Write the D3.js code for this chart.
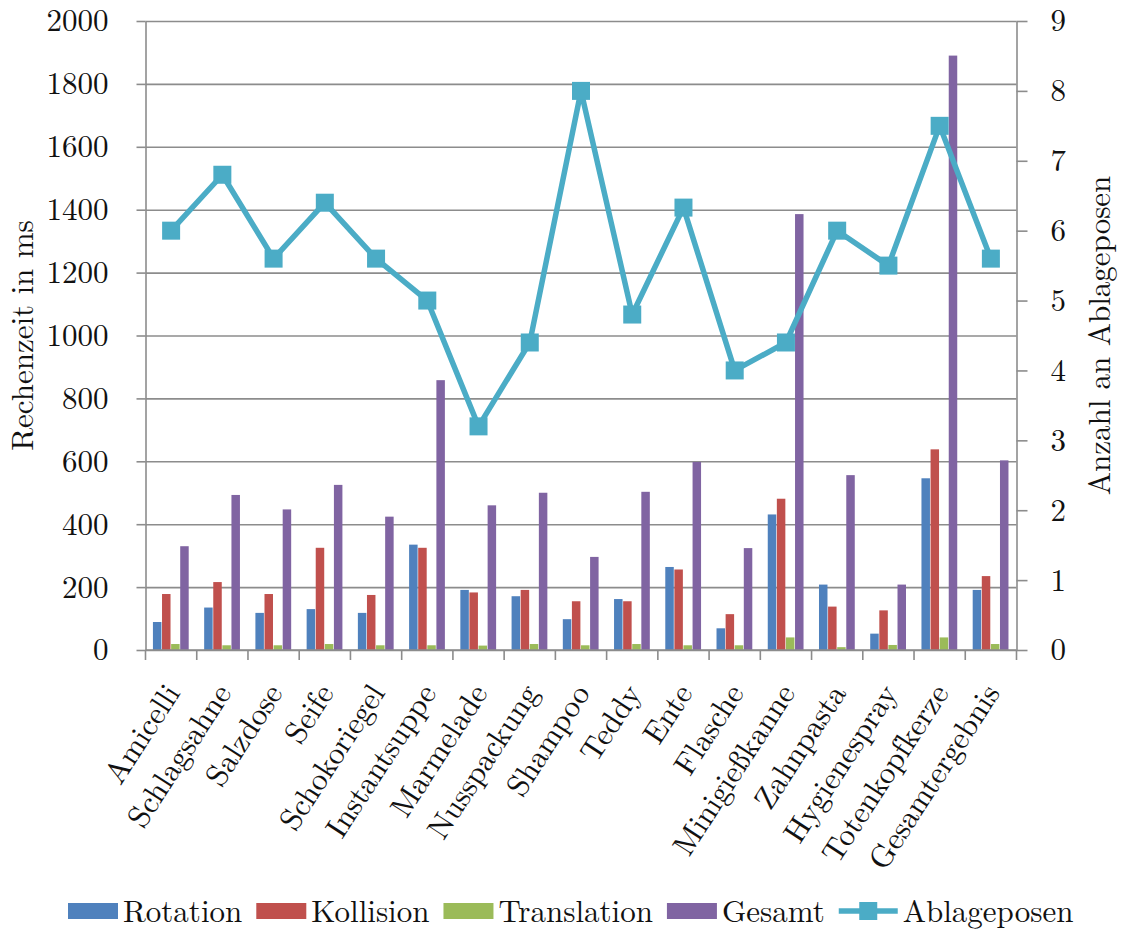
<!DOCTYPE html>
<html>
<head>
<meta charset="utf-8">
<script src="https://cdn.jsdelivr.net/npm/d3@7"></script>
<style>
  html, body { margin: 0; padding: 0; background: #fff; }
  svg { display: block; }
</style>
</head>
<body>
<svg id="chart" width="1123" height="932"></svg>
<script>
// Objects
const categories = ["Amicelli", "Schlagsahne", "Salzdose", "Seife", "Schokoriegel", "Instantsuppe",
  "Marmelade", "Nusspackung", "Shampoo", "Teddy", "Ente", "Flasche", "Minigießkanne",
  "Zahnpasta", "Hygienespray", "Totenkopfkerze", "Gesamtergebnis"];

// Computation times in ms
const rotation    = [89, 135, 118, 130, 118, 335, 191, 171, 98, 162, 264, 69, 431, 208, 52, 546, 191];
const kollision   = [178, 216, 178, 325, 175, 325, 183, 191, 155, 155, 256, 114, 481, 138, 126, 638, 235];
const translation = [19, 15, 15, 19, 15, 15, 14, 19, 15, 19, 15, 15, 40, 9, 16, 40, 19];
const gesamt      = [330, 493, 447, 525, 424, 858, 460, 500, 296, 503, 598, 324, 1386, 556, 208, 1890, 603];

// Number of placement poses (right axis)
const ablageposen = [6.0, 6.8, 5.6, 6.4, 5.6, 5.0, 3.2, 4.4, 8.0, 4.8, 6.33, 4.0, 4.4, 6.0, 5.5, 7.5, 5.6];

const seriesNames = ["Rotation", "Kollision", "Translation", "Gesamt"];
const seriesValues = [rotation, kollision, translation, gesamt];
const seriesColors = ["#4F81BD", "#C0504D", "#9BBB59", "#8064A2"];
const lineName = "Ablageposen";
const lineColor = "#4BACC6";

const leftTicks = d3.range(0, 2001, 200);
const rightTicks = d3.range(0, 10, 1);

const yLabel = "Rechenzeit in ms";
const y2Label = "Anzahl an Ablageposen";

// Pick the first installed serif face
function pickFont(candidates) {
  const ctx = document.createElement("canvas").getContext("2d");
  const probe = "Rechenzeit Ablageposen 2000 Wgil";
  const width = f => { ctx.font = f; return ctx.measureText(probe).width; };
  for (const c of candidates) {
    const a = width(`32px "${c}", monospace`), b = width("32px monospace");
    const p = width(`32px "${c}", sans-serif`), q = width("32px sans-serif");
    if (a !== b || p !== q) return `"${c}"`;
  }
  return "serif";
}
const serifFont = pickFont(["Latin Modern Roman", "CMU Serif", "Liberation Serif", "Tinos", "DejaVu Serif",
  "Noto Serif", "Times New Roman", "Nimbus Roman", "FreeSerif"]) + ", serif";

// Layout
const plot = { left: 145.5, right: 1016.5, top: 21, bottom: 650 };
const fontSize = 31;
const gridColor = "#8c8c8c";

const svg = d3.select("#chart");

const x0 = d3.scaleBand().domain(categories)
  .range([plot.left, plot.right]).paddingInner(0.29).paddingOuter(0.145);
const x1 = d3.scaleBand().domain(seriesNames).range([0, x0.bandwidth()]).padding(0);
const y = d3.scaleLinear().domain([0, 2000]).range([plot.bottom, plot.top]);
const y2 = d3.scaleLinear().domain([0, 9]).range([plot.bottom, plot.top]);

// Horizontal gridlines
svg.append("g").attr("class", "grid")
  .attr("transform", `translate(${plot.left},0)`)
  .call(d3.axisLeft(y).tickValues(leftTicks).tickSize(-(plot.right - plot.left)).tickFormat(""))
  .call(g => g.select(".domain").remove())
  .call(g => g.selectAll("line").attr("stroke", gridColor).attr("stroke-width", 1.6));

// Bars
const barData = [];
categories.forEach((c, i) => {
  seriesNames.forEach((s, k) => barData.push({ cat: c, series: s, value: seriesValues[k][i], color: seriesColors[k] }));
});
svg.append("g").attr("class", "bars")
  .selectAll("rect").data(barData).join("rect")
  .attr("x", d => x0(d.cat) + x1(d.series))
  .attr("y", d => y(d.value))
  .attr("width", x1.bandwidth() - 0.6)
  .attr("height", d => y(0) - y(d.value))
  .attr("fill", d => d.color);

// Left axis
const leftAxis = svg.append("g")
  .attr("transform", `translate(${plot.left},0)`)
  .call(d3.axisLeft(y).tickValues(leftTicks).tickSize(9).tickSizeOuter(0).tickPadding(28).tickFormat(d3.format("d")));
leftAxis.attr("font-family", serifFont).attr("font-size", fontSize);
leftAxis.select(".domain").attr("stroke", gridColor).attr("stroke-width", 1.6);
leftAxis.selectAll(".tick line").attr("stroke", gridColor).attr("stroke-width", 1.6);
leftAxis.selectAll(".tick text").attr("fill", "#111");

// Right axis
const rightAxis = svg.append("g")
  .attr("transform", `translate(${plot.right},0)`)
  .call(d3.axisRight(y2).tickValues(rightTicks).tickSize(11).tickSizeOuter(0).tickPadding(23).tickFormat(d3.format("d")));
rightAxis.attr("font-family", serifFont).attr("font-size", fontSize);
rightAxis.select(".domain").attr("stroke", gridColor).attr("stroke-width", 1.6);
rightAxis.selectAll(".tick line").attr("stroke", gridColor).attr("stroke-width", 1.6);
rightAxis.selectAll(".tick text").attr("fill", "#111");

// Bottom axis: baseline, tick marks between categories, rotated labels
const bottom = svg.append("g").attr("font-family", serifFont).attr("font-size", fontSize).attr("fill", "#111");
bottom.append("line")
  .attr("x1", plot.left).attr("x2", plot.right)
  .attr("y1", y(0)).attr("y2", y(0))
  .attr("stroke", gridColor).attr("stroke-width", 1.6);
const boundaries = d3.range(categories.length + 1).map(i => x0.range()[0] + i * x0.step());
bottom.selectAll("line.cat-tick").data(boundaries).join("line")
  .attr("class", "cat-tick")
  .attr("x1", d => d).attr("x2", d => d)
  .attr("y1", y(0)).attr("y2", y(0) + 10)
  .attr("stroke", gridColor).attr("stroke-width", 1.6);
bottom.selectAll("text").data(categories).join("text")
  .attr("transform", d => `translate(${x0(d) + x0.bandwidth() / 2 + 10},${y(0) + 43}) rotate(-57)`)
  .attr("text-anchor", "end")
  .text(d => d);

// Line series on the right axis
const lineGen = d3.line()
  .x((d, i) => x0(categories[i]) + x0.bandwidth() / 2)
  .y(d => y2(d));
svg.append("path").datum(ablageposen)
  .attr("d", lineGen)
  .attr("fill", "none")
  .attr("stroke", lineColor)
  .attr("stroke-width", 5.5)
  .attr("stroke-linejoin", "round");
const mSize = 18;
svg.append("g").selectAll("rect").data(ablageposen).join("rect")
  .attr("x", (d, i) => x0(categories[i]) + x0.bandwidth() / 2 - mSize / 2)
  .attr("y", d => y2(d) - mSize / 2)
  .attr("width", mSize).attr("height", mSize)
  .attr("fill", lineColor);

// Axis titles
const titles = svg.append("g").attr("font-family", serifFont).attr("font-size", fontSize).attr("fill", "#111");
titles.append("text")
  .attr("transform", `translate(33,${(plot.top + plot.bottom) / 2}) rotate(-90)`)
  .attr("text-anchor", "middle")
  .text(yLabel);
titles.append("text")
  .attr("transform", `translate(1110,${(plot.top + plot.bottom) / 2}) rotate(-90)`)
  .attr("text-anchor", "middle")
  .text(y2Label);

// Legend
const legend = svg.append("g").attr("transform", "translate(68,0)")
  .attr("font-family", serifFont).attr("font-size", fontSize).attr("fill", "#111");
let lx = 0;
const legendItems = seriesNames.map((s, k) => ({ name: s, color: seriesColors[k], type: "bar" }))
  .concat([{ name: lineName, color: lineColor, type: "line" }]);
legendItems.forEach(item => {
  const g = legend.append("g").attr("transform", `translate(${lx},0)`);
  let w;
  if (item.type === "bar") {
    g.append("rect").attr("x", 0).attr("y", 903).attr("width", 50).attr("height", 16).attr("fill", item.color);
    w = 50;
  } else {
    g.append("line").attr("x1", 0).attr("x2", 59).attr("y1", 911).attr("y2", 911)
      .attr("stroke", item.color).attr("stroke-width", 5.5);
    g.append("rect").attr("x", 29.5 - mSize / 2).attr("y", 911 - mSize / 2)
      .attr("width", mSize).attr("height", mSize).attr("fill", item.color);
    w = 59;
  }
  const t = g.append("text").attr("x", w + 5).attr("y", 922).text(item.name);
  lx += w + 5 + t.node().getComputedTextLength() + 14;
});
</script>
</body>
</html>
